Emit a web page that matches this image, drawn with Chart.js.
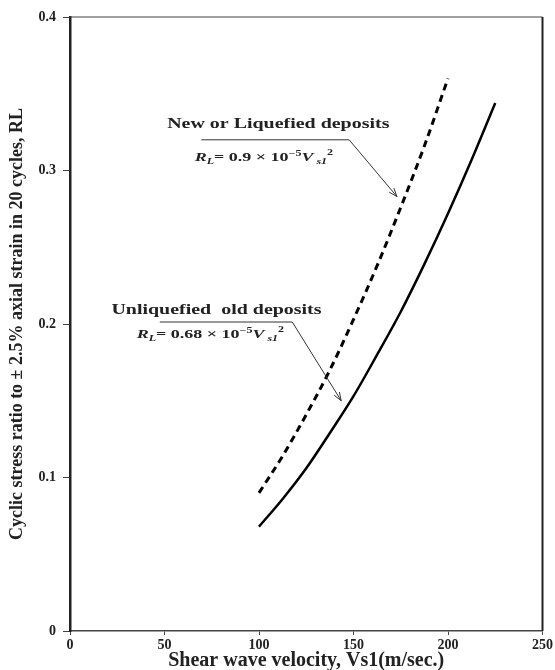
<!DOCTYPE html>
<html>
<head>
<meta charset="utf-8">
<script src="https://cdn.jsdelivr.net/npm/chart.js@4.4.1/dist/chart.umd.min.js"></script>
<style>
  html, body { margin: 0; padding: 0; background: #fff; }
  #wrap { width: 555px; height: 670px; }
</style>
</head>
<body>
<div id="wrap"><canvas id="chart" width="555" height="670"></canvas></div>
<script>
// values
var newVs = [100, 112.5, 125, 137.5, 150, 162.5, 175, 187.5, 200];
var newRL = [0.090, 0.114, 0.141, 0.170, 0.203, 0.238, 0.276, 0.316, 0.360];
var oldVs = [100, 112.5, 125, 137.5, 150, 162.5, 175, 187.5, 200, 212.5, 225];
var oldRL = [0.068, 0.086, 0.106, 0.129, 0.153, 0.180, 0.208, 0.239, 0.272, 0.307, 0.344];
var xTicks = [0, 50, 100, 150, 200, 250];
var yTicks = [0, 0.1, 0.2, 0.3, 0.4];

function toPoints(xs, ys) {
    return xs.map(function (x, i) { return {x: x, y: ys[i]}; });
}

var SERIF = "'Liberation Serif', 'DejaVu Serif', serif";

// label boxes, in data units
var notes = [
    {title: "New or Liquefied deposits", tx: 110.2, ty: 0.330,
     line: [69.5, 147.7, 0.320], arrow: [173, 0.283],
     fx: 66, fy: 0.306, coef: "0.9"},
    {title: "Unliquefied  old deposits", tx: 77.5, ty: 0.209,
     line: [47.5, 117.6, 0.2013], arrow: [143.5, 0.150],
     fx: 35.3, fy: 0.191, coef: "0.68"}
];

function drawFormula(ctx, x, y, coef) {
    var parts = [
        ["R", 12, 0, "italic bold"],
        ["L", 8, 3, "italic bold"],
        ["= " + coef + " \u00d7 10", 12, 0, "bold"],
        ["\u22125", 8, -5, "bold"],
        ["V", 12, 0, "italic bold"],
        [" s1", 8, 3, "italic bold"],
        ["2", 8, -6, "bold"]
    ];
    ctx.save();
    ctx.translate(x, y);
    ctx.scale(1.5, 1);
    ctx.textBaseline = "alphabetic";
    ctx.textAlign = "left";
    var cx = 0;
    parts.forEach(function (p) {
        ctx.font = p[3] + " " + p[1] + "px " + SERIF;
        ctx.fillText(p[0], cx, p[2]);
        cx += ctx.measureText(p[0]).width;
    });
    ctx.restore();
}

var notesPlugin = {
    id: "notes",
    afterDraw: function (chart) {
        var ctx = chart.ctx;
        var xs = chart.scales.x, ys = chart.scales.y;
        var a = chart.chartArea;
        ctx.save();
        // box around the plot
        ctx.strokeStyle = "#444";
        ctx.lineWidth = 1.2;
        ctx.beginPath();
        ctx.moveTo(a.left, a.top);
        ctx.lineTo(a.right, a.top);
        ctx.stroke();
        ctx.lineWidth = 2;
        ctx.strokeStyle = "#222";
        ctx.beginPath();
        ctx.moveTo(a.right, a.top);
        ctx.lineTo(a.right, a.bottom);
        ctx.stroke();

        ctx.fillStyle = "#222";
        ctx.strokeStyle = "#333";
        notes.forEach(function (n) {
            ctx.save();
            ctx.translate(xs.getPixelForValue(n.tx), ys.getPixelForValue(n.ty));
            ctx.scale(1.33, 1);
            ctx.font = "bold 15px " + SERIF;
            ctx.textAlign = "center";
            ctx.textBaseline = "middle";
            ctx.fillText(n.title, 0, 0);
            ctx.restore();

            var x0 = xs.getPixelForValue(n.line[0]);
            var x1 = xs.getPixelForValue(n.line[1]);
            var yl = ys.getPixelForValue(n.line[2]);
            var ax = xs.getPixelForValue(n.arrow[0]);
            var ay = ys.getPixelForValue(n.arrow[1]);
            ctx.lineWidth = 1;
            ctx.beginPath();
            ctx.moveTo(x0, yl);
            ctx.lineTo(x1, yl);
            ctx.lineTo(ax, ay);
            ctx.stroke();
            // open arrow head
            var ang = Math.atan2(ay - yl, ax - x1);
            var h = 9;
            ctx.beginPath();
            ctx.moveTo(ax - h * Math.cos(ang - 0.35), ay - h * Math.sin(ang - 0.35));
            ctx.lineTo(ax, ay);
            ctx.lineTo(ax - h * Math.cos(ang + 0.35), ay - h * Math.sin(ang + 0.35));
            ctx.stroke();

            drawFormula(ctx, xs.getPixelForValue(n.fx), ys.getPixelForValue(n.fy), n.coef);
        });
        ctx.restore();
    }
};

var ctx = document.getElementById("chart").getContext("2d");
new Chart(ctx, {
    type: "scatter",
    data: {
        datasets: [
            {
                label: "New or Liquefied deposits",
                data: toPoints(newVs, newRL),
                showLine: true,
                borderColor: "#000",
                borderWidth: 3,
                borderDash: [7, 5],
                pointRadius: 0,
                cubicInterpolationMode: "monotone"
            },
            {
                label: "Unliquefied old deposits",
                data: toPoints(oldVs, oldRL),
                showLine: true,
                borderColor: "#000",
                borderWidth: 2.5,
                pointRadius: 0,
                cubicInterpolationMode: "monotone"
            }
        ]
    },
    options: {
        responsive: false,
        animation: false,
        layout: {padding: {top: 17, right: 11, left: 0, bottom: 0}},
        plugins: {
            legend: {display: false},
            tooltip: {enabled: false}
        },
        scales: {
            x: {
                type: "linear",
                min: 0,
                max: 250,
                afterFit: function (s) { s.height = 39; },
                afterBuildTicks: function (s) { s.ticks = xTicks.map(function (v) { return {value: v}; }); },
                grid: {display: true, drawOnChartArea: false, drawTicks: true, tickLength: 4, color: "#444"},
                border: {display: true, color: "#444", width: 1.5},
                ticks: {color: "#222", padding: 2, font: {family: SERIF, size: 14, weight: "bold"}},
                title: {
                    display: true,
                    text: "Shear wave velocity, Vs1(m/sec.)",
                    color: "#222",
                    padding: {top: 0, bottom: -3},
                    font: {family: SERIF, size: 20, weight: "bold"}
                }
            },
            y: {
                type: "linear",
                min: 0,
                max: 0.4,
                afterFit: function (s) { s.width = 70; },
                afterBuildTicks: function (s) { s.ticks = yTicks.map(function (v) { return {value: v}; }); },
                grid: {display: true, drawOnChartArea: false, drawTicks: true, tickLength: 7, color: "#444"},
                border: {display: true, color: "#222", width: 2.5},
                ticks: {
                    color: "#222",
                    padding: 7,
                    font: {family: SERIF, size: 14, weight: "bold"},
                    callback: function (v) { return v === 0 ? "0" : v.toFixed(1); }
                },
                title: {
                    display: true,
                    text: "Cyclic stress ratio to \u00b1 2.5% axial strain in 20 cycles, RL",
                    color: "#222",
                    padding: {top: 7, bottom: 0},
                    font: {family: SERIF, size: 18, weight: "bold"}
                }
            }
        }
    },
    plugins: [notesPlugin]
});
</script>
</body>
</html>
